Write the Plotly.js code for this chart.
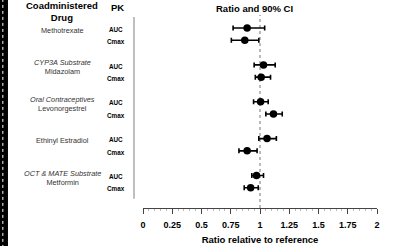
<!DOCTYPE html>
<html>
<head>
<meta charset="utf-8">
<script src="https://cdn.plot.ly/plotly-3.0.1.min.js"></script>
<style>html,body{margin:0;padding:0;background:#fff}#chart{width:400px;height:246px}</style>
</head>
<body>
<div id="chart"></div>
<script>
// Drug-interaction forest plot: geometric mean ratio with 90% CI
const groupTitles = ["", "CYP3A Substrate", "Oral Contraceptives", "", "OCT & MATE Substrate"];
const drugs = ["Methotrexate", "Midazolam", "Levonorgestrel", "Ethinyl Estradiol", "Metformin"];
const pkParams = ["AUC", "Cmax"];

const ratio = [0.89, 0.87, 1.03, 1.01, 1.005, 1.115, 1.06, 0.89, 0.97, 0.92];
const ciLow = [0.77, 0.755, 0.95, 0.96, 0.945, 1.05, 0.99, 0.82, 0.93, 0.865];
const ciHigh = [1.04, 0.99, 1.13, 1.09, 1.07, 1.19, 1.14, 0.975, 1.03, 0.985];

const xTicks = [0, 0.25, 0.5, 0.75, 1, 1.25, 1.5, 1.75, 2];
const xTickText = ["0", "0.25", "0.5", "0.75", "1", "1.25", "1.5", "1.75", "2"];

// row positions: two PK rows per drug, one blank row between drugs
const rowPos = [];
const rowPk = [];
drugs.forEach((d, g) => {
  pkParams.forEach((p, i) => { rowPos.push(g * 3 + i); rowPk.push(p); });
});

const trace = {
  type: "scatter",
  mode: "markers",
  x: ratio,
  y: rowPos,
  marker: {color: "#000", size: 7.5},
  error_x: {
    type: "data",
    symmetric: false,
    array: ratio.map((r, i) => ciHigh[i] - r),
    arrayminus: ratio.map((r, i) => r - ciLow[i]),
    color: "#000",
    thickness: 1.6,
    width: 2.5
  },
  hoverinfo: "skip"
};

const font = "Liberation Sans, Arial, sans-serif";
const annotations = [];

// column headers
annotations.push({xref: "paper", yref: "paper", x: -0.346, y: 1.016, text: "<b>Coadministered<br>Drug</b>",
  showarrow: false, font: {family: font, size: 9.5, color: "#000"}, xanchor: "center", yanchor: "middle"});
annotations.push({xref: "paper", yref: "paper", x: -0.111, y: 1.041, text: "<b>PK</b>",
  showarrow: false, font: {family: font, size: 9.5, color: "#000"}, xanchor: "center", yanchor: "middle"});
annotations.push({xref: "x", yref: "paper", x: 0.95, y: 1.036, text: "<b>Ratio and 90% CI</b>",
  showarrow: false, font: {family: font, size: 9.5, color: "#000"}, xanchor: "center", yanchor: "middle"});

// drug labels
drugs.forEach((d, g) => {
  const label = groupTitles[g] ? "<i>" + groupTitles[g] + "</i><br>" + d : d;
  annotations.push({xref: "paper", yref: "y", x: -0.346, y: g * 3 + 0.17, text: label,
    showarrow: false, font: {family: font, size: 7.3, color: "#333"}, xanchor: "center", yanchor: "middle"});
});

// PK parameter labels
rowPos.forEach((y, i) => {
  annotations.push({xref: "paper", yref: "y", x: -0.115, y: y + 0.1, text: "<b>" + rowPk[i] + "</b>",
    showarrow: false, font: {family: font, size: 6.3, color: "#000"}, xanchor: "center", yanchor: "middle"});
});

const shapes = [
  // reference line at ratio 1
  {type: "line", xref: "x", yref: "paper", x0: 1, x1: 1, y0: 0, y1: 1,
    line: {color: "#777", width: 1, dash: "dot"}, layer: "below"},
  // vertical separator between labels and plot
  {type: "line", xref: "paper", yref: "y", x0: -0.0385, x1: -0.0385, y0: -0.9, y1: 13.9,
    line: {color: "#aaa", width: 1.5}},
  // dark strip at the left edge
  {type: "rect", xref: "paper", yref: "paper", x0: -0.62, x1: -0.577, y0: -0.3, y1: 1.2,
    fillcolor: "#000", line: {width: 0}},
  {type: "line", xref: "paper", yref: "paper", x0: -0.599, x1: -0.599, y0: -0.3, y1: 1.2,
    line: {color: "#fff", width: 1, dash: "dot"}}
];

const layout = {
  width: 400, height: 246,
  margin: {l: 143, r: 23, t: 15, b: 38},
  paper_bgcolor: "#fff", plot_bgcolor: "#fff",
  showlegend: false,
  xaxis: {
    range: [0, 2],
    tickvals: xTicks, ticktext: xTickText.map(t => "<b>" + t + "</b>"),
    ticks: "outside", ticklen: 5, tickcolor: "#444", tickwidth: 1,
    ticklabelstandoff: 3,
    minor: {dtick: 0.05, ticks: "outside", ticklen: 2, tickcolor: "#bbb", tickwidth: 1, showgrid: false},
    showline: true, linecolor: "#444", linewidth: 1,
    showgrid: false, zeroline: false,
    tickfont: {family: font, size: 9, color: "#000"},
    title: {text: "<b>Ratio relative to reference</b>", font: {family: font, size: 9.5, color: "#000"}, standoff: 7}
  },
  yaxis: {
    range: [14.65, -1.06],
    showticklabels: false, showgrid: false, zeroline: false, showline: false, ticks: ""
  },
  shapes: shapes,
  annotations: annotations
};

Plotly.newPlot("chart", [trace], layout, {displayModeBar: false, staticPlot: true});
</script>
</body>
</html>
